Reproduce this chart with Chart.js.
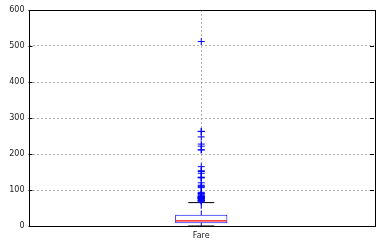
<!DOCTYPE html>
<html><head><meta charset="utf-8">
<script src="https://cdn.jsdelivr.net/npm/chart.js@4"></script>
<style>html,body{margin:0;padding:0;background:#fff}#c{display:block}</style>
</head><body>
<canvas id="c" width="381" height="246"></canvas>
<script>
const categories = ['Fare'];
const q1 = [7.91];
const median = [14.45];
const q3 = [31.0];
const whiskerLow = [0];
const whiskerHigh = [65.0];
const outliers = [66.6, 69.3, 69.55, 71, 71.28, 73.5, 75.25, 76.29, 76.73, 77.29, 77.96, 78.27, 78.85, 79.2, 79.65, 81.86, 82.17, 83.16, 83.48, 86.5, 89.1, 90, 91.08, 93.5, 106.43, 108.9, 110.88, 113.28, 120, 133.65, 134.5, 135.63, 146.52, 151.55, 153.46, 164.87, 211.34, 211.5, 221.78, 227.53, 247.52, 262.38, 263, 512.33];
const yTicks = [0, 100, 200, 300, 400, 500, 600];

const frame = {
  id: 'frame',
  afterDraw(chart) {
    const {ctx, chartArea: a} = chart;
    const ys = chart.scales.y;
    ctx.save();
    ctx.strokeStyle = '#000';
    ctx.lineWidth = 1;
    ctx.beginPath();
    yTicks.forEach(v => {
      const p = Math.round(ys.getPixelForValue(v)) + 0.5;
      ctx.moveTo(a.left, p); ctx.lineTo(a.left + 4, p);
      ctx.moveTo(a.right, p); ctx.lineTo(a.right - 4, p);
    });
    ctx.stroke();
    ctx.strokeRect(Math.round(a.left) + 0.5, Math.round(a.top) + 0.5, Math.round(a.right - a.left), Math.round(a.bottom - a.top));
    ctx.restore();
  }
};

new Chart(document.getElementById('c'), {
  type: 'bar',
  data: {
    labels: categories,
    datasets: [
      {
        type: 'scatter', label: 'outliers', order: 0,
        data: outliers.map(v => ({x: categories[0], y: v})),
        pointStyle: 'cross', radius: 3.5, borderColor: '#0000ff', borderWidth: 1, backgroundColor: '#0000ff'
      },
      {
        type: 'line', label: 'whisker', order: 2,
        data: [{x: categories[0], y: q3[0]}, {x: categories[0], y: whiskerHigh[0]}],
        borderColor: '#0000ff', borderWidth: 1, borderDash: [4, 2], pointRadius: 0
      },
      {
        type: 'line', label: 'whiskerLow', order: 2,
        data: [{x: categories[0], y: whiskerLow[0]}, {x: categories[0], y: q1[0]}],
        borderColor: '#0000ff', borderWidth: 1, borderDash: [4, 2], pointRadius: 0
      },
      {
        type: 'scatter', label: 'caps', order: 1,
        data: [{x: categories[0], y: whiskerHigh[0]}, {x: categories[0], y: whiskerLow[0]}],
        pointStyle: 'line', radius: 13, borderColor: '#000', borderWidth: 1
      },
      {
        type: 'scatter', label: 'median', order: 0,
        data: [{x: categories[0], y: median[0]}],
        pointStyle: 'line', radius: 25.5, borderColor: '#ff0000', borderWidth: 1.2
      },
      {
        label: 'box', order: 3,
        data: categories.map((c, i) => [q1[i], q3[i]]),
        backgroundColor: '#ffffff', borderColor: '#0000ff', borderWidth: 1, borderSkipped: false,
        barPercentage: 0.151, categoryPercentage: 1
      }
    ]
  },
  plugins: [frame],
  options: {
    responsive: false, animation: false,
    layout: {autoPadding: false, padding: {top: 10, right: 7, left: 0, bottom: 0}},
    plugins: {legend: {display: false}, tooltip: {enabled: false}},
    scales: {
      x: {
        type: 'category', offset: true,
        grid: {display: true, offset: false, color: '#b0b0b0', tickLength: 0, lineWidth: 1},
        border: {display: false, dash: [2, 2]},
        ticks: {color: '#222', font: {family: 'DejaVu Sans', size: 8}, padding: 5},
        afterFit(s) { s.height = 20; }
      },
      y: {
        min: 0, max: 600,
        afterBuildTicks(s) { s.ticks = yTicks.map(v => ({value: v})); },
        grid: {color: '#b0b0b0', tickLength: 0, drawTicks: false},
        border: {display: false, dash: [2, 2]},
        ticks: {color: '#222', font: {family: 'DejaVu Sans', size: 8}, padding: 4},
        afterFit(s) { s.width = 28.5; }
      }
    }
  }
});
</script>
</body></html>
